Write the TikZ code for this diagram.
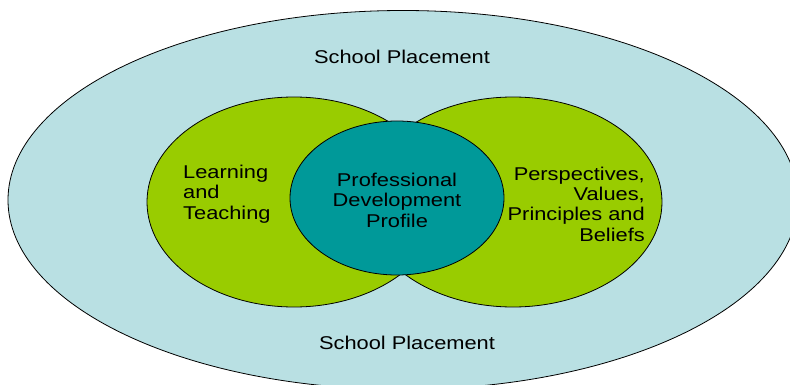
\documentclass[tikz,border=0pt]{standalone}
\usepackage{fontspec}
\setmainfont[FakeStretch=1.18]{Liberation Sans}
\usetikzlibrary{shapes.geometric}
\definecolor{placementblue}{RGB}{185,224,227}
\definecolor{leafgreen}{RGB}{153,204,0}
\definecolor{profileteal}{RGB}{0,153,153}
\tikzset{
  ring/.style={ellipse, draw=black, line width=0.8pt, inner sep=0pt},
  lbl/.style={font=\fontsize{18.5}{20.4}\selectfont, inner sep=0pt},
}
\begin{document}
\begin{tikzpicture}[x=1pt,y=-1pt]
\useasboundingbox (0,0) rectangle (790,385);
% outer region and the two overlapping circles
\node[ring, fill=placementblue, minimum width=790, minimum height=379] (placement) at (403,200){};
\node[ring, fill=leafgreen, minimum width=294, minimum height=210] (learning) at (294,202){};
\node[ring, fill=leafgreen, minimum width=298, minimum height=210] (values) at (513,202){};
\node[ring, fill=profileteal, minimum width=214, minimum height=154] (profile) at (397,198){};
% labels
\node[lbl] (toplabel) at (402,57){School Placement};
\node[lbl] (bottomlabel) at (407,343){School Placement};
\node[lbl, align=left, anchor=west] (learningtext) at (183,194){Learning\\and\\Teaching};
\node[lbl, align=center] (profiletext) at (397,200){Professional\\Development\\Profile};
\node[lbl, align=right, anchor=east] (valuestext) at (645,204){Perspectives,\\Values,\\Principles and\\Beliefs};
\end{tikzpicture}
\end{document}
